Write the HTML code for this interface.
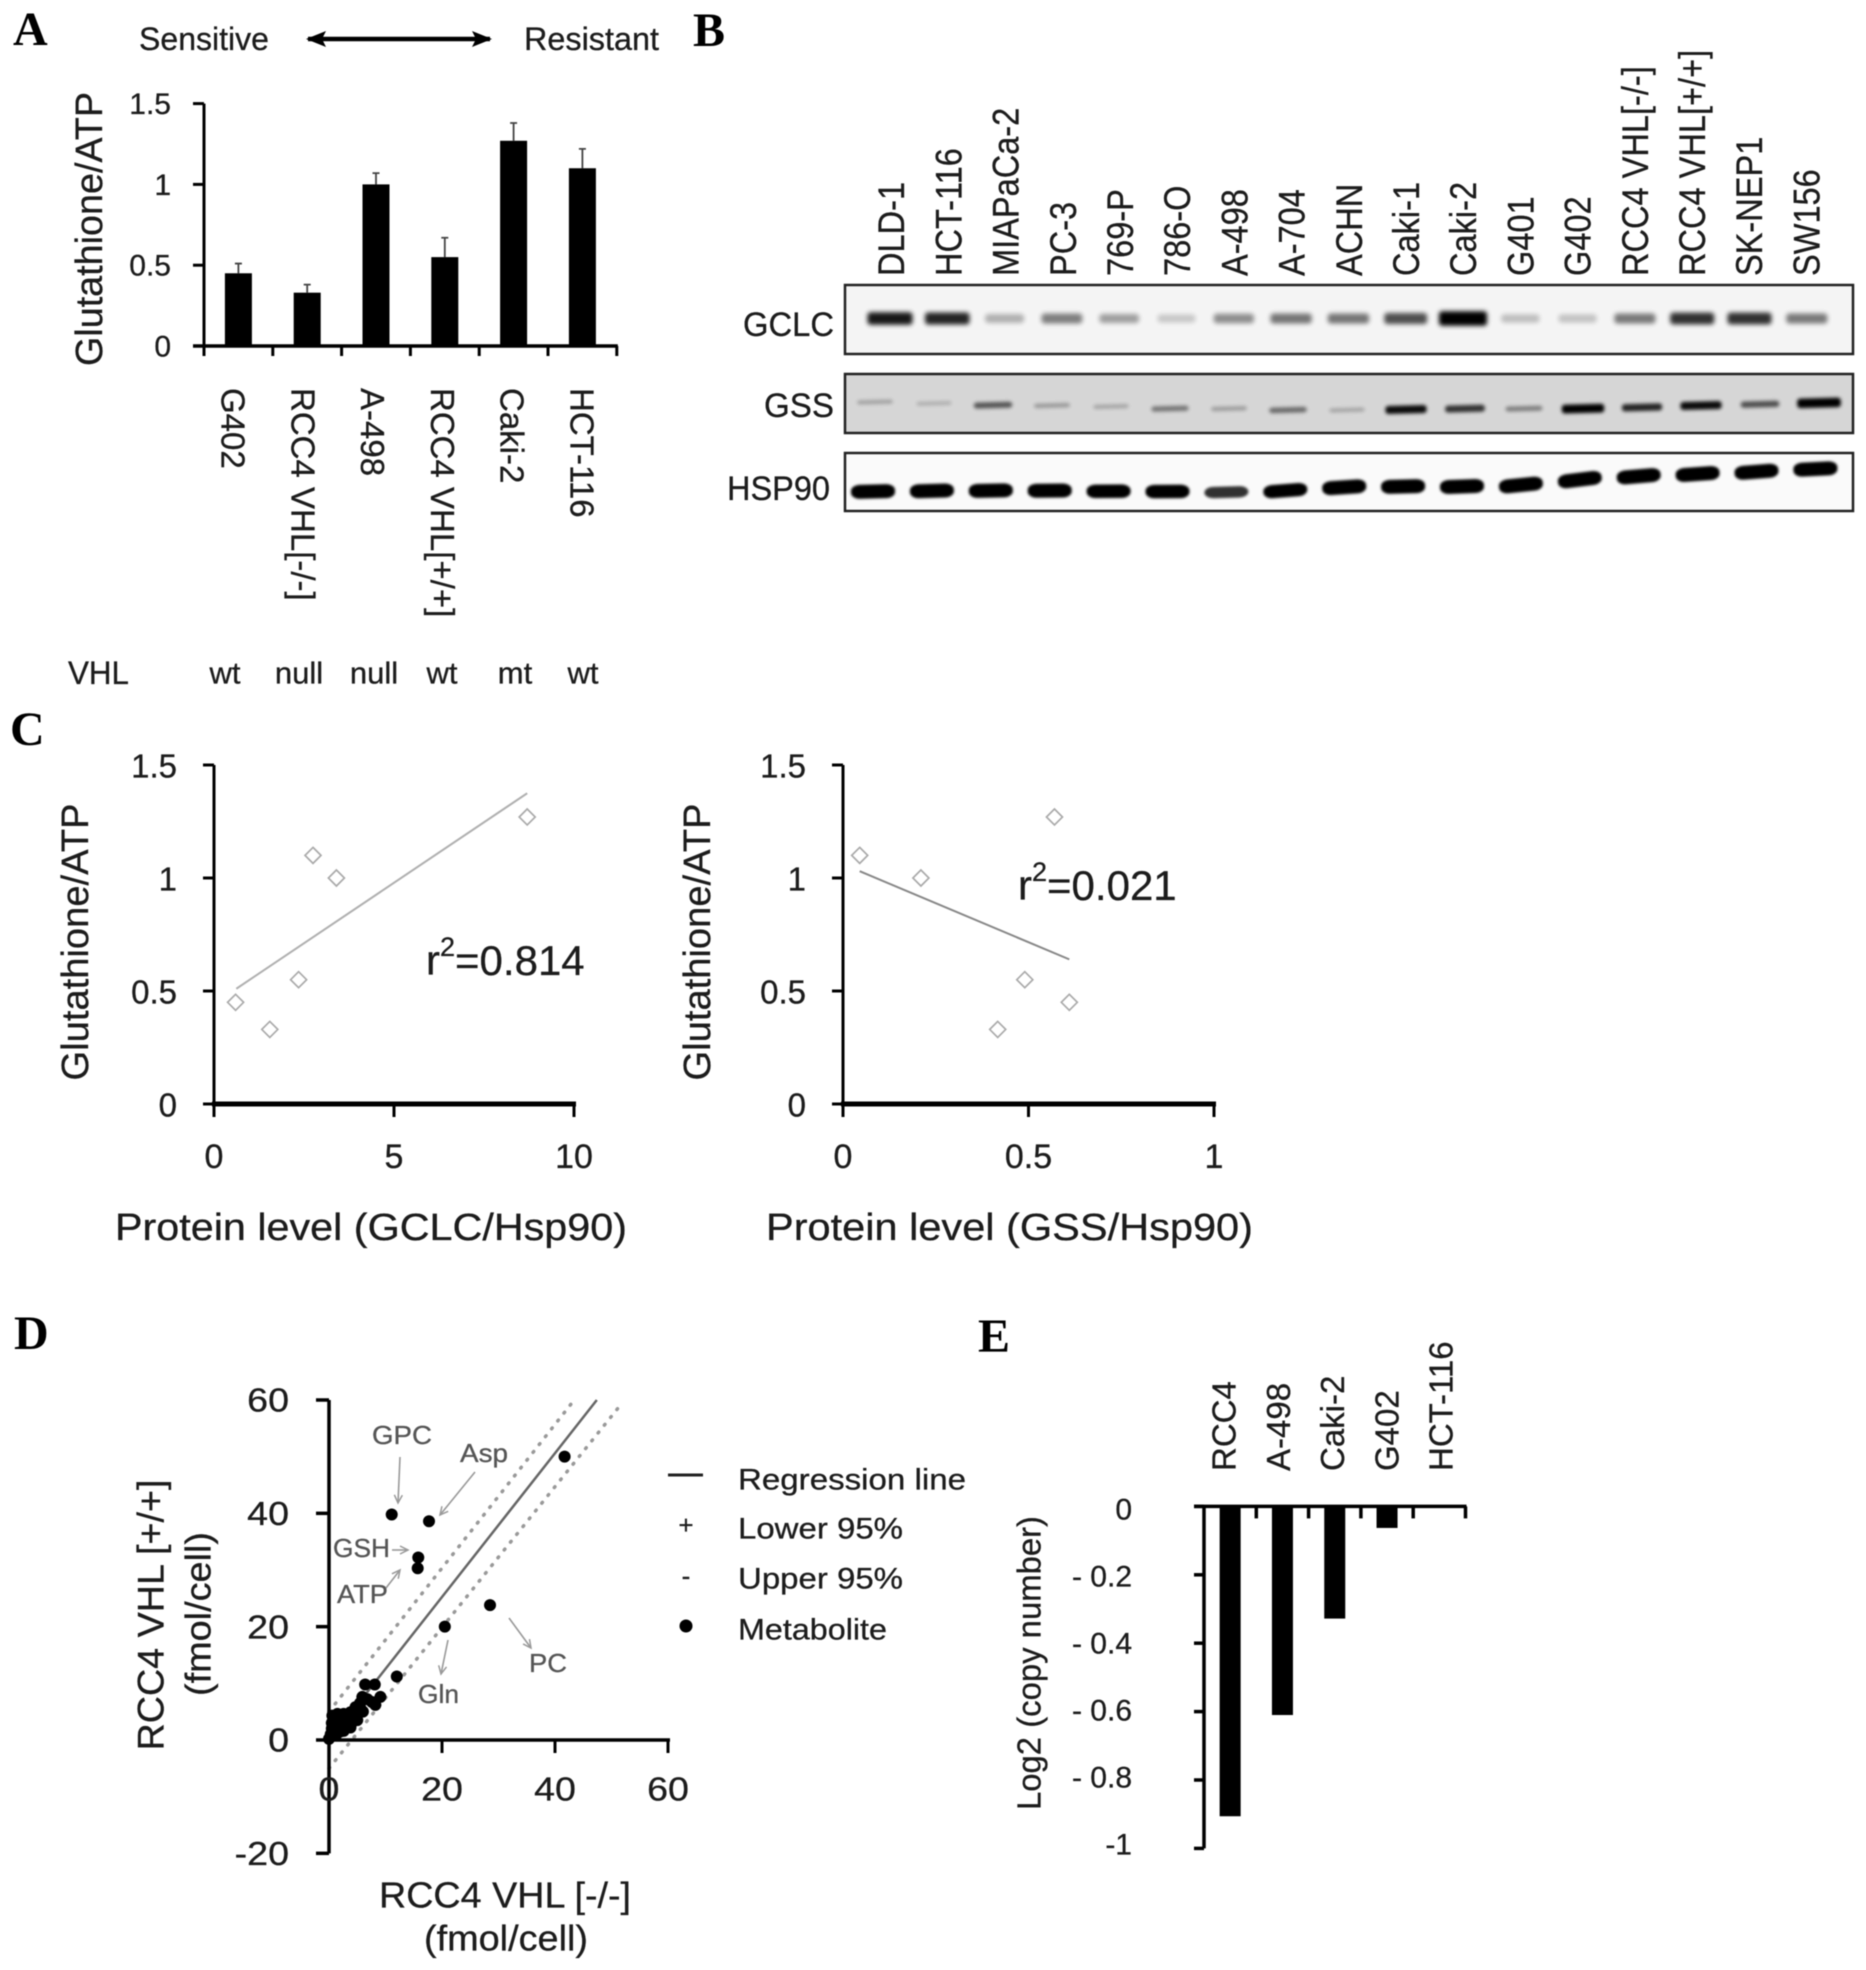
<!DOCTYPE html>
<html lang="en">
<head>
<meta charset="utf-8">
<title>Glutathione, protein level and copy number figure</title>
<style>
  html, body { margin: 0; padding: 0; background: #fff; }
  #figure { display: block; width: 1866px; height: 1970px; background: #fff; filter: blur(0.6px); }
  text { font-family: "Liberation Sans", sans-serif; fill: #1c1c1c; stroke: #1c1c1c; stroke-width: 0.3px; dominant-baseline: central; }
  text.letter { font-family: "Liberation Serif", serif; font-weight: bold; font-size: 48px; fill: #000; stroke: none; dominant-baseline: auto; }
  text.tag { fill: #555; stroke: #555; font-size: 26px; }
  line.arrow { stroke: #999; stroke-width: 1.6; marker-end: url(#open-arrow); }
</style>
</head>
<body>
<svg id="figure" xmlns="http://www.w3.org/2000/svg" width="1866" height="1970" viewBox="0 0 1866 1970">
  <defs>
    <filter id="band-blur" x="-30%" y="-100%" width="160%" height="300%"><feGaussianBlur stdDeviation="2.4"/></filter>
    <filter id="band-blur-soft" x="-20%" y="-60%" width="140%" height="220%"><feGaussianBlur stdDeviation="1.3"/></filter>
    <filter id="band-blur-gss" x="-20%" y="-150%" width="140%" height="400%"><feGaussianBlur stdDeviation="1.8"/></filter>
    <marker id="open-arrow" markerWidth="12" markerHeight="12" refX="9" refY="5" orient="auto" markerUnits="userSpaceOnUse">
      <path d="M1 1 L9 5 L1 9" fill="none" stroke="#999" stroke-width="1.5"/>
    </marker>
    <marker id="arrow-left" markerWidth="20" markerHeight="18" refX="2" refY="9" orient="auto" markerUnits="userSpaceOnUse"><path d="M20 1 L0 9 L20 17 L16 9 Z" fill="#000"/></marker>
    <marker id="arrow-right" markerWidth="20" markerHeight="18" refX="18" refY="9" orient="auto" markerUnits="userSpaceOnUse"><path d="M0 1 L20 9 L0 17 L4 9 Z" fill="#000"/></marker>
  </defs>

  <g id="panel-a">
    <text class="letter" x="13" y="45">A</text>
    <text x="139" y="39" font-size="32" textLength="130" lengthAdjust="spacingAndGlyphs">Sensitive</text>
    <line x1="308" y1="39" x2="490" y2="39" stroke="#000" stroke-width="4.5" marker-start="url(#arrow-left)" marker-end="url(#arrow-right)"/>
    <text x="524" y="39" font-size="32" textLength="135" lengthAdjust="spacingAndGlyphs">Resistant</text>
    <text transform="translate(90,229) rotate(-90)" text-anchor="middle" font-size="38" textLength="274" lengthAdjust="spacingAndGlyphs">Glutathione/ATP</text>
    <text x="68" y="673" font-size="32" textLength="61" lengthAdjust="spacingAndGlyphs">VHL</text>
    <text x="225" y="673" font-size="31" text-anchor="middle">wt</text>
    <text x="299" y="673" font-size="31" text-anchor="middle">null</text>
    <text x="374" y="673" font-size="31" text-anchor="middle">null</text>
    <text x="442" y="673" font-size="31" text-anchor="middle">wt</text>
    <text x="515" y="673" font-size="31" text-anchor="middle">mt</text>
    <text x="583" y="673" font-size="31" text-anchor="middle">wt</text>
  </g>

  <g id="panel-b">
    <text class="letter" x="693" y="46">B</text>
    <rect x="845" y="285" width="1008" height="69" fill="#f4f4f4" stroke="#222" stroke-width="2.5"/>
    <rect x="845" y="374" width="1008" height="59" fill="#d6d6d6" stroke="#222" stroke-width="2.5"/>
    <rect x="845" y="453" width="1008" height="58" fill="#fafafa" stroke="#222" stroke-width="2.5"/>
    <text x="743" y="325" font-size="34" textLength="91" lengthAdjust="spacingAndGlyphs">GCLC</text>
    <text x="764" y="406" font-size="34" textLength="70" lengthAdjust="spacingAndGlyphs">GSS</text>
    <text x="727" y="489" font-size="34" textLength="103" lengthAdjust="spacingAndGlyphs">HSP90</text>
  </g>

  <g id="panel-c">
    <text class="letter" x="10" y="745">C</text>
    <text transform="translate(76,942) rotate(-90)" text-anchor="middle" font-size="38" textLength="277" lengthAdjust="spacingAndGlyphs">Glutathione/ATP</text>
    <text transform="translate(698,942) rotate(-90)" text-anchor="middle" font-size="38" textLength="277" lengthAdjust="spacingAndGlyphs">Glutathione/ATP</text>
    <text x="115" y="1228" font-size="38" textLength="512" lengthAdjust="spacingAndGlyphs">Protein level (GCLC/Hsp90)</text>
    <text x="766" y="1228" font-size="38" textLength="487" lengthAdjust="spacingAndGlyphs">Protein level (GSS/Hsp90)</text>
    <text x="426" y="960" font-size="42">r<tspan font-size="27" dy="-13">2</tspan><tspan dy="13">=0.814</tspan></text>
    <text x="1018" y="885" font-size="42">r<tspan font-size="27" dy="-13">2</tspan><tspan dy="13">=0.021</tspan></text>
  </g>

  <g id="panel-d">
    <text class="letter" x="14" y="1349">D</text>
    <text transform="translate(151,1615) rotate(-90)" text-anchor="middle" font-size="37" textLength="271" lengthAdjust="spacingAndGlyphs">RCC4 VHL [+/+]</text>
    <text transform="translate(198,1614) rotate(-90)" text-anchor="middle" font-size="36" textLength="164" lengthAdjust="spacingAndGlyphs">(fmol/cell)</text>
    <text x="379" y="1895" font-size="36" textLength="252" lengthAdjust="spacingAndGlyphs">RCC4 VHL [-/-]</text>
    <text x="424" y="1938" font-size="36" textLength="164" lengthAdjust="spacingAndGlyphs">(fmol/cell)</text>

    <text class="tag" x="372" y="1435" textLength="60" lengthAdjust="spacingAndGlyphs">GPC</text>
    <text class="tag" x="460" y="1453" textLength="48" lengthAdjust="spacingAndGlyphs">Asp</text>
    <text class="tag" x="333" y="1548" textLength="57" lengthAdjust="spacingAndGlyphs">GSH</text>
    <text class="tag" x="337" y="1594" textLength="51" lengthAdjust="spacingAndGlyphs">ATP</text>
    <text class="tag" x="418" y="1694" textLength="41" lengthAdjust="spacingAndGlyphs">Gln</text>
    <text class="tag" x="529" y="1663" textLength="38" lengthAdjust="spacingAndGlyphs">PC</text>
    <line class="arrow" x1="400" y1="1457" x2="398" y2="1503"/>
    <line class="arrow" x1="475" y1="1472" x2="440" y2="1515"/>
    <line class="arrow" x1="392" y1="1550" x2="408" y2="1550"/>
    <line class="arrow" x1="386" y1="1588" x2="400" y2="1570"/>
    <line class="arrow" x1="448" y1="1640" x2="441" y2="1674"/>
    <line class="arrow" x1="509" y1="1618" x2="531" y2="1648"/>

    <g>
      <line x1="668" y1="1475" x2="703" y2="1475" stroke="#222" stroke-width="3"/>
      <text x="738" y="1480" font-size="30" textLength="228" lengthAdjust="spacingAndGlyphs">Regression line</text>
      <text x="686" y="1525" font-size="26" text-anchor="middle">+</text>
      <text x="738" y="1529" font-size="30" textLength="165" lengthAdjust="spacingAndGlyphs">Lower 95%</text>
      <text x="686" y="1576" font-size="26" text-anchor="middle">-</text>
      <text x="738" y="1579" font-size="30" textLength="165" lengthAdjust="spacingAndGlyphs">Upper 95%</text>
      <circle cx="686" cy="1626" r="6.5" fill="#000"/>
      <text x="738" y="1630" font-size="30" textLength="149" lengthAdjust="spacingAndGlyphs">Metabolite</text>
    </g>
  </g>

  <g id="panel-e">
    <text class="letter" x="978" y="1352">E</text>
    <text transform="translate(1029,1663) rotate(-90)" text-anchor="middle" font-size="33" textLength="294" lengthAdjust="spacingAndGlyphs">Log2 (copy number)</text>
  </g>
</svg>

<script>
// Panel A
const glutathioneLines = ['G402', 'RCC4 VHL[-/-]', 'A-498', 'RCC4 VHL[+/+]', 'Caki-2', 'HCT-116'];
const glutathioneValues = [0.45, 0.33, 1.0, 0.55, 1.27, 1.1];
const glutathioneErrorTops = [0.51, 0.38, 1.07, 0.67, 1.38, 1.22];
const glutathioneTicks = [0, 0.5, 1, 1.5];
const glutathioneTickLabels = ['0', '0.5', '1', '1.5'];

// Panel B
const blotLanes = ['DLD-1', 'HCT-116', 'MIAPaCa-2', 'PC-3', '769-P', '786-O', 'A-498', 'A-704', 'ACHN', 'Caki-1', 'Caki-2', 'G401', 'G402', 'RCC4 VHL[-/-]', 'RCC4 VHL[+/+]', 'SK-NEP1', 'SW156'];
const gclcIntensity = [0.9, 0.85, 0.28, 0.48, 0.35, 0.18, 0.42, 0.52, 0.52, 0.68, 1.25, 0.22, 0.2, 0.5, 0.8, 0.8, 0.5];
const gssIntensity = [0.2, 0.14, 0.55, 0.24, 0.18, 0.4, 0.22, 0.45, 0.18, 0.9, 0.72, 0.36, 1.05, 0.78, 0.9, 0.58, 1.2];
const hsp90Intensity = [1, 1, 1, 1, 0.95, 0.95, 0.7, 0.92, 1, 1, 1, 1, 1, 1, 1, 1, 1];
const gssMigration = [1, 0.83, 0.61, 0.56, 0.44, 0.17, 0.17, 0, 0, 0.06, 0.17, 0.17, 0.17, 0.33, 0.56, 0.72, 0.89];
const hsp90Migration = [0, 0.03, 0.04, 0.04, 0.01, 0, -0.03, 0.04, 0.19, 0.22, 0.22, 0.29, 0.53, 0.68, 0.78, 0.88, 1];

// Panel C
const gclcLevels = [0.6, 1.55, 2.35, 2.75, 3.4, 8.7];
const gssLevels = [0.61, 0.417, 0.49, 0.045, 0.21, 0.57];
const ratioValues = [0.45, 0.33, 0.55, 1.1, 1.0, 1.27];
const gclcFitX = [0.62, 8.7];
const gclcFitY = [0.51, 1.375];
const gssFitX = [0.045, 0.61];
const gssFitY = [1.03, 0.64];
const ratioTicks = [0, 0.5, 1, 1.5];
const ratioTickLabels = ['0', '0.5', '1', '1.5'];
const gclcTicks = [0, 5, 10];
const gclcTickLabels = ['0', '5', '10'];
const gssTicks = [0, 0.5, 1];
const gssTickLabels = ['0', '0.5', '1'];

// Panel D
const metaboliteX = [41.7, 11.1, 17.7, 15.8, 15.7, 28.5, 20.5, 12, 6.4, 8.1, 0.6, 1.5, 2.6, 3.8, 4.7, 5.9, 6.8, 5.6, 8.2, 9.1, 7.6, 3.2, 4.4, 2, 0.9, 0, 1.2, 2.6, 3.8, 1.5, 3, 2, 1, 4, 5, 0.3, 0.5, 1, 2, 3, 4, 5, 5.5, 6, 1.5, 3.5, 0.5, 0.8];
const metaboliteY = [50, 39.8, 38.6, 32.2, 30.3, 23.8, 20, 11.2, 9.8, 9.8, 4.3, 4.6, 4.6, 4.9, 5.8, 7.6, 7.2, 5.5, 6.2, 7.6, 6.7, 3.1, 3.7, 2.5, 1.4, 0.2, 0.8, 1.6, 2.2, 3.1, 4, 3.5, 3, 3, 4.5, 1, 3, 2, 1.5, 2.5, 4, 3.5, 6.5, 5, 1.5, 3.5, 2, 3.8];
const regressionX = [0.5, 47.4];
const regressionY = [0.5, 60];
const upperBandX = [0, 43.4];
const upperBandY = [5, 60];
const lowerBandX = [0, 51.5];
const lowerBandY = [-5, 59];
const metaboliteXTicks = [0, 20, 40, 60];
const metaboliteYTicks = [-20, 0, 20, 40, 60];
const metaboliteXTickLabels = ['0', '20', '40', '60'];
const metaboliteYTickLabels = ['-20', '0', '20', '40', '60'];

// Panel E
const copyLines = ['RCC4', 'A-498', 'Caki-2', 'G402', 'HCT-116'];
const copyValues = [-0.906, -0.61, -0.328, -0.063, 0];
const copyTicks = [0, -0.2, -0.4, -0.6, -0.8, -1];
const copyTickLabels = ['0', '- 0.2', '- 0.4', '- 0.6', '- 0.8', '-1'];

const NS = 'http://www.w3.org/2000/svg';
function make(parent, tag, props, content) {
  const node = document.createElementNS(NS, tag);
  for (const key in props) node.setAttribute(key, props[key]);
  if (content !== undefined) node.textContent = content;
  parent.appendChild(node);
  return node;
}
function linear(d0, d1, r0, r1) {
  return function (v) { return r0 + (v - d0) * (r1 - r0) / (d1 - d0); };
}

const panelA = document.getElementById('panel-a');
const panelB = document.getElementById('panel-b');
const panelC = document.getElementById('panel-c');
const panelD = document.getElementById('panel-d');
const panelE = document.getElementById('panel-e');

/* ---------- generic axes ---------- */
function drawYAxis(parent, xPos, scale, ticks, labels, tickLen, labelRight, fontSize, width, top, bottom, stretch, labelScale) {
  const sx = stretch || 1;
  const ls = labelScale || scale;
  const axis = make(parent, 'line', { x1: xPos, x2: xPos, y1: top, y2: bottom, stroke: '#000', 'stroke-width': width });
  
  
  ticks.forEach(function (t, i) {
    const mark = make(parent, 'line', { x1: xPos - tickLen, x2: xPos, y1: scale(t), y2: scale(t), stroke: '#000', 'stroke-width': width });
    
    
    const label = make(parent, 'text', { transform: 'translate(' + labelRight + ',' + (ls(t) + 1) + ') scale(' + sx + ',1)', 'font-size': fontSize, 'text-anchor': 'end' }, labels[i]);
    
    
  });
}
function drawXAxis(parent, yPos, scale, ticks, labels, tickLen, labelY, fontSize, width, tickWidth, stretch) {
  const sx = stretch || 1;
  const axis = make(parent, 'line', { x1: scale(ticks[0]) - 2, x2: scale(ticks[ticks.length - 1]) + 2, y1: yPos, y2: yPos, stroke: '#000', 'stroke-width': width });
  
  
  ticks.forEach(function (t, i) {
    const mark = make(parent, 'line', { x1: scale(t), x2: scale(t), y1: yPos, y2: yPos + tickLen, stroke: '#000', 'stroke-width': tickWidth });
    
    
    const label = make(parent, 'text', { transform: 'translate(' + scale(t) + ',' + labelY + ') scale(' + sx + ',1)', 'font-size': fontSize, 'text-anchor': 'middle' }, labels[i]);
    
    
  });
}

/* ---------- Panel A ---------- */
const aY = linear(0, 1.5, 346, 103.6);
const aBandStart = 204;
const aBandStep = 68.8;
function aCenter(i) { return aBandStart + aBandStep * (i + 0.5); }
drawYAxis(panelA, 204, aY, glutathioneTicks, glutathioneTickLabels, 11, 171, 30, 3, aY(1.5), aY(0));
const aBase = make(panelA, 'line', { x1: 193, x2: aBandStart + aBandStep * glutathioneValues.length + 1, y1: aY(0), y2: aY(0), stroke: '#000', 'stroke-width': 3.5 });


for (let i = 0; i <= glutathioneValues.length; i++) {
  const tick = make(panelA, 'line', { x1: aBandStart + aBandStep * i, x2: aBandStart + aBandStep * i, y1: aY(0), y2: aY(0) + 10, stroke: '#000', 'stroke-width': 3 });
  
  
}
glutathioneValues.forEach(function (v, i) {
  const cx = aCenter(i);
  const err = make(panelA, 'path', { d: 'M' + cx + ' ' + aY(v) + 'V' + aY(glutathioneErrorTops[i]) + 'M' + (cx - 3.5) + ' ' + aY(glutathioneErrorTops[i]) + 'H' + (cx + 3.5), stroke: '#444', 'stroke-width': 1.8, fill: 'none' });
  
  
  const bar = make(panelA, 'rect', { x: cx - 13.5, y: aY(v), width: 27, height: aY(0) - aY(v), fill: '#000' });
  
  
  const cat = make(panelA, 'text', { transform: 'translate(' + (233 + 69.8 * i) + ',388) rotate(90)', 'font-size': 33 }, glutathioneLines[i]);
  
  
});

/* ---------- Panel B ---------- */
function lane(start, step, i) { return start + step * i; }
const gssBandY = linear(0, 1, 410, 402);
const hsp90BandY = linear(0, 1, 491.5, 469);
function bandAngle(scale, migration, step, i) {
  const a = migration[Math.max(0, i - 1)];
  const b = migration[Math.min(migration.length - 1, i + 1)];
  return Math.atan2(scale(b) - scale(a), 2 * step) * 180 / Math.PI;
}
blotLanes.forEach(function (name, i) {
  const label = make(panelB, 'text', { transform: 'translate(' + lane(892, 57.2, i) + ',276) rotate(-90) scale(0.88,1)', 'font-size': 37 }, name);
  
  

  const gW = 36 + 10 * Math.min(gclcIntensity[i], 1.2);
  const gH = 7 + 6 * gclcIntensity[i];
  const gclc = make(panelB, 'rect', { x: lane(890, 57.3, i) - gW / 2, y: 318.5 - gH / 2, width: gW, height: gH, rx: 3, fill: '#000', opacity: Math.min(1, gclcIntensity[i]), filter: 'url(#band-blur)' });
  
  

  const sH = 3 + 5.5 * gssIntensity[i];
  const sW = 34 + 8 * gssIntensity[i];
  const sx = lane(875, 59, i);
  const sy = gssBandY(gssMigration[i]);
  const gss = make(panelB, 'rect', { x: sx - sW / 2, y: sy - sH / 2, width: sW, height: sH, rx: 3, fill: '#000', opacity: Math.min(1, gssIntensity[i] + 0.05), filter: 'url(#band-blur-gss)', transform: 'rotate(-1.5 ' + sx + ' ' + sy + ')' });
  
  

  const hH = 5 + 9 * hsp90Intensity[i];
  const hx = lane(873, 58.9, i);
  const hy = hsp90BandY(hsp90Migration[i]);
  const angle = bandAngle(hsp90BandY, hsp90Migration, 58.9, i) * 1.4 - 1;
  const hsp = make(panelB, 'rect', { x: hx - 22, y: hy - hH / 2, width: 44, height: hH, rx: 9, ry: 6, fill: '#000', opacity: Math.min(1, hsp90Intensity[i] + 0.1), filter: 'url(#band-blur-soft)', transform: 'rotate(' + angle + ' ' + hx + ' ' + hy + ')' });
  
  
});

/* ---------- Panel C ---------- */
function scatter(parent, xVals, yVals, xScale, yScale, fitX, fitY, fitColor) {
  const fit = make(parent, 'line', { x1: xScale(fitX[0]), y1: yScale(fitY[0]), x2: xScale(fitX[1]), y2: yScale(fitY[1]), stroke: fitColor, 'stroke-width': 2 });
  
  
  xVals.forEach(function (v, i) {
    const cx = xScale(v);
    const cy = yScale(yVals[i]);
    const p = make(parent, 'path', { d: 'M' + cx + ' ' + (cy - 8) + 'L' + (cx + 8) + ' ' + cy + 'L' + cx + ' ' + (cy + 8) + 'L' + (cx - 8) + ' ' + cy + 'Z', fill: '#fff', stroke: '#aaa', 'stroke-width': 1.7 });
    
    
  });
}
const cY = linear(0, 1.5, 1104, 765);
const cLeftX = linear(0, 10, 214, 574);
const cRightX = linear(0, 1, 843, 1214);
drawYAxis(panelC, 214, cY, ratioTicks, ratioTickLabels, 11, 177, 33, 3, cY(1.5), cY(0));
drawXAxis(panelC, cY(0), cLeftX, gclcTicks, gclcTickLabels, 13, 1157, 34, 5, 3);
scatter(panelC, gclcLevels, ratioValues, cLeftX, cY, gclcFitX, gclcFitY, '#b0b0b0');
drawYAxis(panelC, 843, cY, ratioTicks, ratioTickLabels, 11, 806, 33, 3, cY(1.5), cY(0));
drawXAxis(panelC, cY(0), cRightX, gssTicks, gssTickLabels, 13, 1157, 34, 5, 3);
scatter(panelC, gssLevels, ratioValues, cRightX, cY, gssFitX, gssFitY, '#888');

/* ---------- Panel D ---------- */
const dX = linear(0, 60, 329, 668);
const dY = linear(0, 60, 1740, 1400);
function dLine(xs, ys, stroke, width, dash, name) {
  const l = make(panelD, 'line', { x1: dX(xs[0]), y1: dY(ys[0]), x2: dX(xs[1]), y2: dY(ys[1]), stroke: stroke, 'stroke-width': width, 'stroke-dasharray': dash, 'stroke-linecap': dash === 'none' ? 'butt' : 'round' });
  
  
}
dLine(upperBandX, upperBandY, '#999', 3.5, '1 9', 'upper-95-band');
dLine(lowerBandX, lowerBandY, '#999', 3.5, '1 9', 'lower-95-band');
dLine(regressionX, regressionY, '#666', 2.5, 'none', 'regression-line');
drawYAxis(panelD, 329, dY, metaboliteYTicks, metaboliteYTickLabels, 13, 289, 33, 3.5, dY(60), dY(-20), 1.14);
drawXAxis(panelD, dY(0), dX, metaboliteXTicks, metaboliteXTickLabels, 13, 1790, 33, 3.5, 3, 1.14);
metaboliteX.forEach(function (v, i) {
  const dot = make(panelD, 'circle', { cx: dX(v), cy: dY(metaboliteY[i]), r: 6, fill: '#000' });
  
  
});

/* ---------- Panel E ---------- */
const eY = linear(0, -1, 1506.4, 1848.4);
const eLabelY = linear(0, -1, 1509, 1844);
const eBandStart = 1204;
const eBandStep = 52.3;
function eCenter(i) { return eBandStart + eBandStep * (i + 0.5); }
drawYAxis(panelE, 1204, eY, copyTicks, copyTickLabels, 10, 1132, 30, 3.5, eY(0), eY(-1), 1, eLabelY);
const eBase = make(panelE, 'line', { x1: 1194, x2: eBandStart + eBandStep * copyValues.length + 1, y1: eY(0), y2: eY(0), stroke: '#000', 'stroke-width': 3.5 });


for (let i = 1; i <= copyValues.length; i++) {
  const tick = make(panelE, 'line', { x1: eBandStart + eBandStep * i, x2: eBandStart + eBandStep * i, y1: eY(0), y2: eY(0) + 12, stroke: '#000', 'stroke-width': 3.5 });
  
  
}
copyValues.forEach(function (v, i) {
  const bar = make(panelE, 'rect', { x: eCenter(i) - 10.5, y: eY(0), width: 21, height: eY(v) - eY(0), fill: '#000' });
  
  
  const cat = make(panelE, 'text', { transform: 'translate(' + (1224 + 54.3 * i) + ',1471) rotate(-90)', 'font-size': 33 }, copyLines[i]);
  
  
});
</script>
</body>
</html>
